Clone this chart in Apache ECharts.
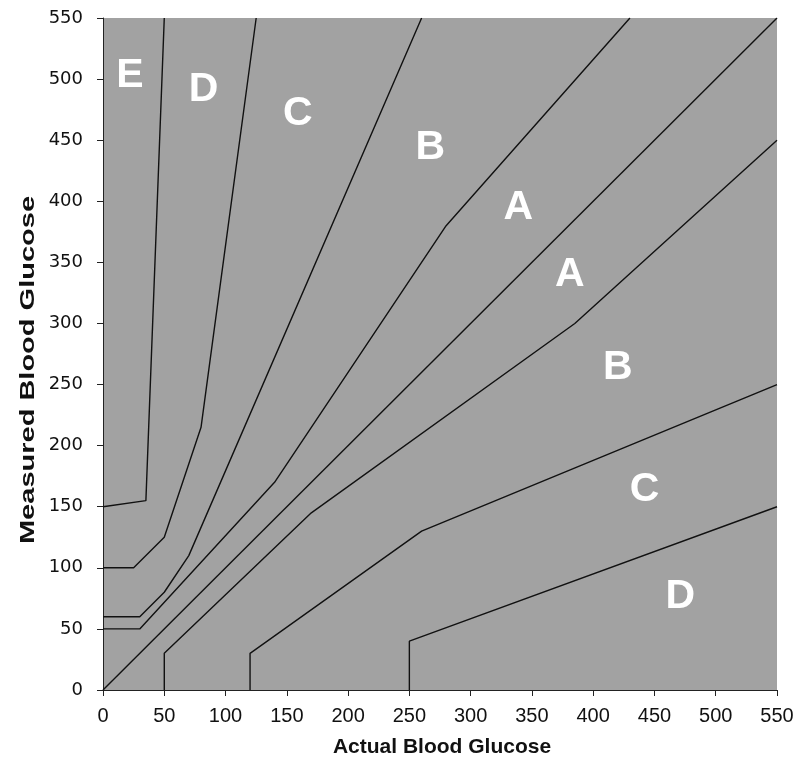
<!DOCTYPE html>
<html>
<head>
<meta charset="utf-8">
<title>Error grid</title>
<script src="https://cdn.jsdelivr.net/npm/echarts@6/dist/echarts.min.js"></script>
<style>
    html, body { margin: 0; padding: 0; background: #fff; }
    #main { width: 799px; height: 769px; }
</style>
</head>
<body>
<div id="main"></div>
<script>
// tick values, same on both axes
var tickValues = [0, 50, 100, 150, 200, 250, 300, 350, 400, 450, 500, 550];

// zone boundaries, [actual, measured]
var identityLine = [[0, 0], [550, 550]];
var zoneAUpper = [[0, 50], [30, 50], [140, 170], [280, 380], [430, 550]];
var zoneALower = [[50, 0], [50, 30], [170, 145], [385, 300], [550, 450]];
var zoneBUpper = [[0, 60], [30, 60], [50, 80], [70, 110], [260, 550]];
var zoneBLower = [[120, 0], [120, 30], [260, 130], [550, 250]];
var zoneCUpper = [[0, 100], [25, 100], [50, 125], [80, 215], [125, 550]];
var zoneCLower = [[250, 0], [250, 40], [550, 150]];
var zoneDUpper = [[0, 150], [35, 155], [50, 550]];

// zone letters and where they sit
var zoneNames = ['E', 'D', 'C', 'B', 'A', 'A', 'B', 'C', 'D'];
var zoneNameX = [22, 82, 159, 267, 339, 381, 420, 442, 471];
var zoneNameY = [503, 491, 472, 444, 395, 340, 264, 164, 76];

var myChart = echarts.init(document.getElementById('main'));

var boundaries = [identityLine, zoneAUpper, zoneALower, zoneBUpper, zoneBLower, zoneCUpper, zoneCLower, zoneDUpper];
var series = [];
for (var i = 0; i < boundaries.length; ++i) {
    series.push({
        type: 'line',
        data: boundaries[i],
        symbol: 'none',
        silent: true,
        lineStyle: { color: '#111', width: 1.4 }
    });
}

var letters = [];
for (var j = 0; j < zoneNames.length; ++j) {
    letters.push({ name: zoneNames[j], value: [zoneNameX[j], zoneNameY[j]] });
}
series.push({
    type: 'scatter',
    data: letters,
    symbolSize: 2,
    itemStyle: { color: 'rgba(0,0,0,0)', opacity: 1 },
    silent: true,
    z: 5,
    label: {
        show: true,
        position: 'inside',
        formatter: '{b}',
        color: '#fff',
        fontFamily: 'Liberation Sans, Arial, sans-serif',
        fontWeight: 'bold',
        fontSize: 41
    }
});

function axisOf(labelFont, labelSize, margin) {
    return {
        type: 'value',
        min: tickValues[0],
        max: tickValues[tickValues.length - 1],
        interval: tickValues[1] - tickValues[0],
        splitLine: { show: false },
        axisLine: { show: true, lineStyle: { color: '#222', width: 1 } },
        axisTick: { show: true, length: 6, lineStyle: { color: '#222' } },
        axisLabel: {
            color: '#111',
            fontFamily: labelFont,
            fontSize: labelSize,
            margin: margin
        }
    };
}

var option = {
    animation: false,
    backgroundColor: '#fff',
    grid: {
        left: 103,
        right: 22,
        top: 18,
        bottom: 79,
        show: true,
        backgroundColor: '#a2a2a2',
        borderWidth: 0
    },
    xAxis: axisOf('Liberation Sans, Arial, sans-serif', 20, 16),
    yAxis: axisOf('DejaVu Sans, Verdana, sans-serif', 18, 20),
    graphic: [
        {
            type: 'text',
            x: 442,
            y: 747,
            style: {
                text: 'Actual Blood Glucose',
                font: 'bold 21px "Liberation Sans", Arial, sans-serif',
                fill: '#111',
                align: 'center',
                verticalAlign: 'middle'
            }
        },
        {
            type: 'text',
            x: 28,
            y: 370,
            rotation: Math.PI / 2,
            scaleX: 1.45,
            style: {
                text: 'Measured Blood Glucose',
                font: 'bold 20px "Liberation Sans", Arial, sans-serif',
                fill: '#111',
                align: 'center',
                verticalAlign: 'middle'
            }
        }
    ],
    series: series
};

myChart.setOption(option);
</script>
</body>
</html>
